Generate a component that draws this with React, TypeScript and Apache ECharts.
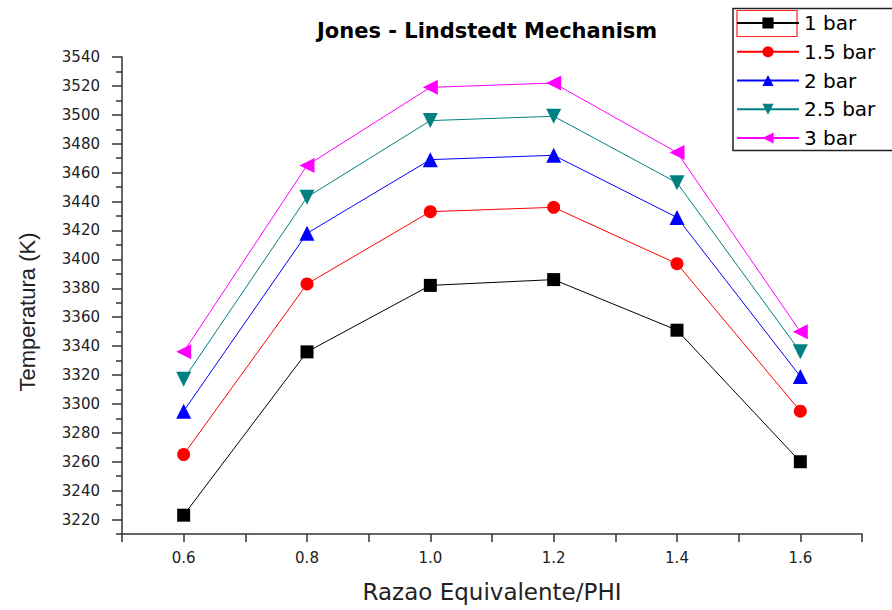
import React, { useEffect, useRef } from "react";
import * as echarts from "echarts";

const phi = [0.6, 0.8, 1.0, 1.2, 1.4, 1.6];
const bar1 = [3223, 3336, 3382, 3386, 3351, 3260];
const bar15 = [3265, 3383, 3433, 3436, 3397, 3295];
const bar2 = [3295, 3418, 3469, 3472, 3429, 3319];
const bar25 = [3317, 3443, 3496, 3499, 3453, 3336];
const bar3 = [3336, 3465, 3519, 3522, 3474, 3350];

const seriesNames = ["1 bar", "1.5 bar", "2 bar", "2.5 bar", "3 bar"];
const yLabelTicks = [3220, 3240, 3260, 3280, 3300, 3320, 3340, 3360, 3380, 3400, 3420, 3440, 3460, 3480, 3500, 3520, 3540];
const yMinorTicks = [3210, 3230, 3250, 3270, 3290, 3310, 3330, 3350, 3370, 3390, 3410, 3430, 3450, 3470, 3490, 3510, 3530];
const xLabelTicks = [0.6, 0.8, 1.0, 1.2, 1.4, 1.6];
const xTicks = [0.5, 0.6, 0.7, 0.8, 0.9, 1.0, 1.1, 1.2, 1.3, 1.4, 1.5, 1.6, 1.7];

export default function App() {
  const ref = useRef<HTMLDivElement>(null);
  useEffect(() => {
    if (!ref.current) return;
    const chart = echarts.init(ref.current, undefined, { renderer: "svg" });
    const values = [bar1, bar15, bar2, bar25, bar3];
    const colors = ["#000000", "#ff0000", "#0000ff", "#008080", "#ff00ff"];
    const symbols = ["rect", "circle", "triangle", "triangle", "triangle"];
    const rotates = [0, 0, 0, 180, 90];
    const sizes = [13, 13, 15, 15, 15];
    const axisColor = "#333333";
    chart.setOption({
      animation: false,
      backgroundColor: "#ffffff",
      title: {
        text: "Jones - Lindstedt Mechanism",
        left: 312,
        top: 15,
        textStyle: { fontFamily: "DejaVu Sans", fontWeight: "bold", fontSize: 21, color: "#000" },
      },
      legend: {
        orient: "vertical",
        left: 736,
        top: 13,
        padding: 0,
        itemWidth: 62,
        itemHeight: 14,
        itemGap: 8.75,
        textStyle: { fontFamily: "DejaVu Sans", fontSize: 20, lineHeight: 20, color: "#000" },
        data: seriesNames,
      },
      grid: { left: 122, right: 30, top: 57, bottom: 76, containLabel: false },
      xAxis: {
        type: "value",
        min: 0.5,
        max: 1.7,
        splitLine: { show: false },
        axisLine: { show: true, lineStyle: { color: axisColor, width: 1.5 } },
        axisTick: { show: true, customValues: xTicks, length: 8, lineStyle: { color: axisColor, width: 1.5 } },
        axisLabel: {
          customValues: xLabelTicks,
          formatter: (v: number) => v.toFixed(1),
          margin: 16,
          fontFamily: "DejaVu Sans",
          fontSize: 15,
          color: "#222",
        },
        name: "Razao Equivalente/PHI",
        nameLocation: "middle",
        nameGap: 46,
        nameTextStyle: { fontFamily: "DejaVu Sans", fontSize: 23, color: "#222" },
      },
      yAxis: [
        {
          type: "value",
          min: 3210,
          max: 3540,
          splitLine: { show: false },
          axisLine: { show: true, lineStyle: { color: axisColor, width: 1.5 } },
          axisTick: { show: true, customValues: yLabelTicks, length: 10, lineStyle: { color: axisColor, width: 1.5 } },
          axisLabel: {
            customValues: yLabelTicks,
            formatter: (v: number) => String(v),
            margin: 22,
            fontFamily: "DejaVu Sans",
            fontSize: 15,
            color: "#222",
          },
        },
        {
          type: "value",
          min: 3210,
          max: 3540,
          position: "left",
          offset: 0,
          splitLine: { show: false },
          axisLine: { show: false },
          axisTick: { show: true, customValues: yMinorTicks, length: 6, lineStyle: { color: axisColor, width: 1.5 } },
          axisLabel: { show: false },
        },
      ],
      graphic: [
        {
          type: "text",
          x: 16,
          y: 312,
          rotation: Math.PI / 2,
          style: {
            text: "Temperatura (K)",
            fontFamily: "Liberation Sans",
            fontSize: 22,
            fill: "#222",
            align: "center",
            verticalAlign: "top",
          },
        },
        {
          type: "rect",
          shape: { x: 733, y: 8.5, width: 200, height: 142 },
          style: { fill: "none", stroke: "#222", lineWidth: 1.5 },
        },
        {
          type: "rect",
          shape: { x: 737, y: 10.5, width: 60, height: 26 },
          style: { fill: "none", stroke: "#ff2020", lineWidth: 1.2 },
        },
      ],
      series: seriesNames.map((name, i) => ({
        name,
        type: "line",
        yAxisIndex: 0,
        data: phi.map((x, j) => [x, values[i][j]]),
        symbol: symbols[i],
        symbolSize: sizes[i],
        symbolRotate: rotates[i],
        showAllSymbol: true,
        itemStyle: { color: colors[i] },
        lineStyle: { color: colors[i], width: 1 },
        emphasis: { disabled: true },
      })),
    });
    return () => chart.dispose();
  }, []);
  return (
    <div
      ref={ref}
      style={{ position: "fixed", left: 0, top: 0, width: 892, height: 610, background: "#fff" }}
    />
  );
}
